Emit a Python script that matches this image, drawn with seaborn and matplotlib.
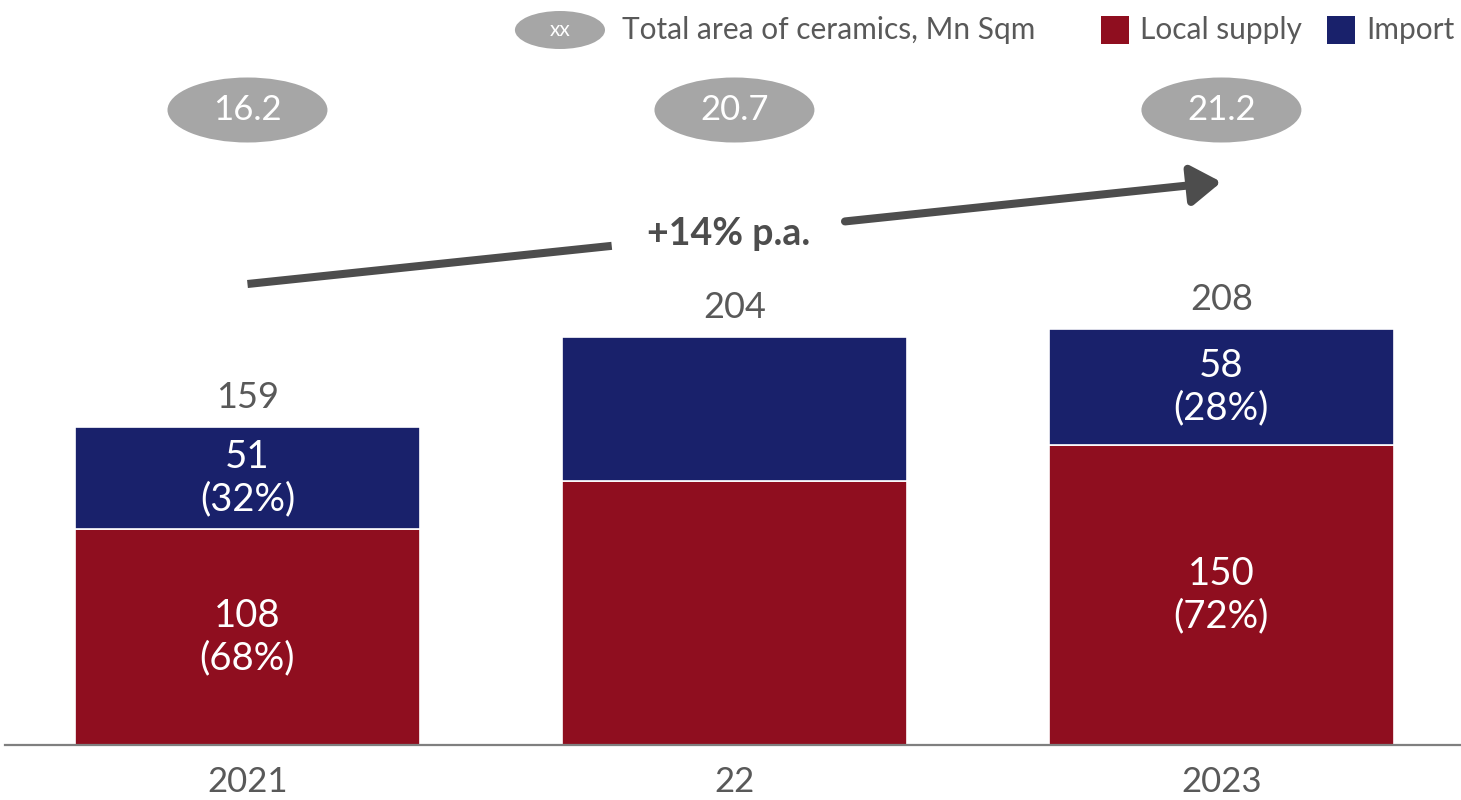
import matplotlib
matplotlib.use("Agg")
import matplotlib.pyplot as plt
from matplotlib.patches import Ellipse, Rectangle
import seaborn as sns
import pandas as pd

# ---- data ----
years = ["2021", "22", "2023"]
local_supply = [108, 132, 150]
imports = [51, 72, 58]
total_area = ["16.2", "20.7", "21.2"]          # Mn Sqm
show_split = [True, False, True]
cagr_label = "+14% p.a."
legend_area = "Total area of ceramics, Mn Sqm"
series_names = ["Local supply", "Import"]

RED = "#8F0E1F"
NAVY = "#19216B"
GREY_TXT = "#595959"
BUBBLE = "#A6A6A6"
ARROW = "#4D4D4D"

sns.set_theme(style="white")
plt.rcParams["font.family"] = ["Lato", "DejaVu Sans"]

df = pd.DataFrame({"year": years, "local": local_supply, "imp": imports})
df["total"] = df["local"] + df["imp"]

fig = plt.figure(figsize=(14.61, 8), dpi=100)
ax = fig.add_axes([0.0034, 0.06875, 0.9966, 0.93125])

sns.barplot(data=df, x="year", y="local", color=RED, width=0.708,
            saturation=1, edgecolor="white", linewidth=1.2, ax=ax)
sns.barplot(data=df, x="year", y="imp", bottom=df["local"], color=NAVY,
            width=0.708, saturation=1, edgecolor="white", linewidth=1.2, ax=ax)

ax.set_xlim(-0.498, 2.492)
ax.set_ylim(0, 372.5)
ax.set_xlabel("")
ax.set_ylabel("")
ax.set_yticks([])
for s in ["top", "left", "right"]:
    ax.spines[s].set_visible(False)
ax.spines["bottom"].set_color("#7F7F7F")
ax.spines["bottom"].set_linewidth(1.6)
ax.tick_params(axis="x", length=0, pad=15, labelsize=25, labelcolor=GREY_TXT)

fs = 26
fs_in = 27.5
for i, row in df.iterrows():
    ax.text(i, row["total"] + 14.5, f"{row['total']}", ha="center", va="center",
            fontsize=fs, color=GREY_TXT)
    if show_split[i]:
        pl = round(100 * row["local"] / row["total"])
        pi = round(100 * row["imp"] / row["total"])
        ax.text(i, row["local"] / 2, f"{row['local']}\n({pl}%)", ha="center",
                va="center", fontsize=fs_in, color="white", linespacing=1.22)
        ax.text(i, row["local"] + row["imp"] / 2, f"{row['imp']}\n({pi}%)",
                ha="center", va="center", fontsize=fs_in, color="white",
                linespacing=1.22)
    # area bubble
    ax.add_patch(Ellipse((i, 317.5), 0.3285, 32.5, facecolor=BUBBLE,
                         edgecolor="none", clip_on=False))
    ax.text(i, 317.5, total_area[i], ha="center", va="center", fontsize=25,
            color="white")

# growth arrow with a gap for its label
x0, y0 = 0.0, 230.5
x1, y1 = 2.0, 281.5
slope = (y1 - y0) / (x1 - x0)
g0, g1 = 0.748, 1.227
ax.plot([x0, g0], [y0, y0 + slope * g0], color=ARROW, lw=5.8,
        solid_capstyle="butt", clip_on=False)
ax.annotate("", xy=(x1, y1), xytext=(g1, y0 + slope * g1),
            arrowprops=dict(arrowstyle="-|>,head_length=0.9,head_width=0.6",
                            lw=5.8, color=ARROW, shrinkA=0, shrinkB=0,
                            mutation_scale=20))
ax.text((g0 + g1) / 2, y0 + slope * (g0 + g1) / 2, cagr_label,
        ha="center", va="center", fontsize=27, fontweight="bold",
        color=ARROW)

# legend row
ly = 357.5
ax.add_patch(Ellipse((0.6417, ly), 0.185, 19, facecolor=BUBBLE,
                     edgecolor="none", clip_on=False))
ax.text(0.6417, ly, "xx", ha="center", va="center", fontsize=15,
        color="white")
ax.text(0.769, ly, legend_area, ha="left", va="center", fontsize=21.5,
        color=GREY_TXT)
for (sx, tx), col, name in zip([(1.7526, 1.8326), (2.2166, 2.2967)],
                                [RED, NAVY], series_names):
    ax.add_patch(Rectangle((sx, ly - 7.2), 0.0585, 14.4, facecolor=col,
                           edgecolor="none", clip_on=False))
    ax.text(tx, ly, name, ha="left", va="center", fontsize=21.5,
            color=GREY_TXT)

fig.savefig("out.png", dpi=100)
